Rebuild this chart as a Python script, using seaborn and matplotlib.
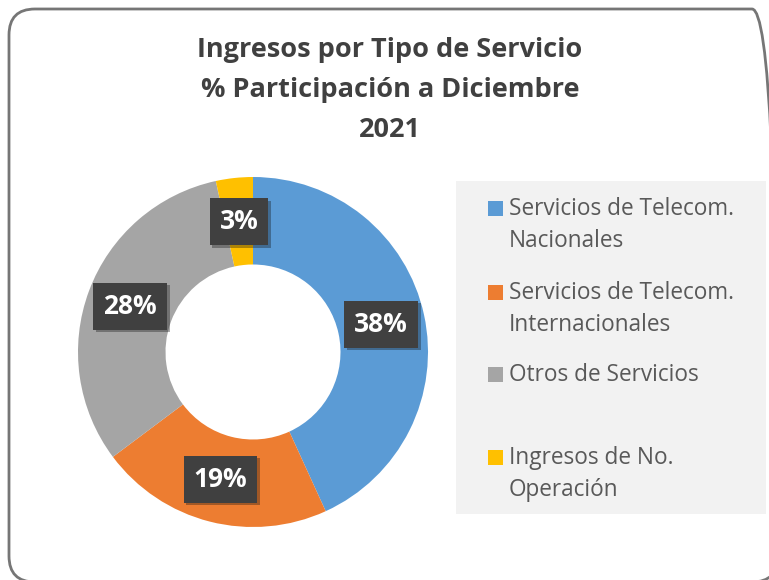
import matplotlib
matplotlib.use("Agg")
import matplotlib.pyplot as plt
import matplotlib.patheffects as pe
from matplotlib.patches import FancyBboxPatch, Rectangle
import seaborn as sns

# datos
categorias = ["Servicios de Telecom.\nNacionales",
              "Servicios de Telecom.\nInternacionales",
              "Otros de Servicios",
              "Ingresos de No.\nOperación"]
valores = [38, 19, 28, 3]
colores = ["#5B9BD5", "#ED7D31", "#A5A5A5", "#FFC000"]
titulo = "Ingresos por Tipo de Servicio\n% Participación a Diciembre\n2021"

sns.set_theme(style="white")
plt.rcParams['font.family'] = ['Open Sans', 'DejaVu Sans']

fig = plt.figure(figsize=(7.69, 5.8), dpi=100)
W, H = 769, 580

# marco redondeado (coordenadas en pixeles)
marco = FancyBboxPatch((9, H - 582), 778 - 9, 582 - 9,
                       boxstyle="round,pad=0,rounding_size=26",
                       transform=None, fill=False,
                       edgecolor="#767676", linewidth=2)
fig.patches.append(marco)

# titulo
fig.text(390 / W, 1 - 90 / H, titulo, ha="center", va="center",
         fontsize=19.5, fontweight="bold", color="#404040", linespacing=1.7)

# dona
ax = fig.add_axes([78 / W, 1 - 527 / H, 350 / W, 350 / H])
total = sum(valores)
wedges, textos, autotextos = ax.pie(
    valores, colors=colores, startangle=90, counterclock=False,
    wedgeprops=dict(width=0.5, edgecolor="none"),
    autopct=lambda p: f"{p * total / 100:.0f}%", pctdistance=0.75)
for t in autotextos:
    t.set_color("white")
    t.set_fontsize(19)
    t.set_fontweight("bold")
    t.set_bbox(dict(boxstyle="square,pad=0.38", facecolor="#404040", edgecolor="none"))
    t.get_bbox_patch().set_path_effects(
        [pe.withSimplePatchShadow(offset=(2, -2), alpha=0.35)])
ax.set_xlim(-1, 1)
ax.set_ylim(-1, 1)
ax.set_aspect("equal")
ax.axis("off")

# leyenda
fondo = Rectangle((456 / W, 1 - 514 / H), 310 / W, 333 / H,
                  transform=fig.transFigure, facecolor="#F2F2F2", edgecolor="none")
fig.patches.append(fondo)
y_centros = [208, 292, 374, 457]
for cat, col, c in zip(categorias, colores, y_centros):
    fig.patches.append(Rectangle((488 / W, 1 - (c + 8) / H), 15 / W, 15 / H,
                                 transform=fig.transFigure, facecolor=col,
                                 edgecolor="none"))
    fig.text(509 / W, 1 - (c - 11) / H, cat, ha="left", va="top",
             fontsize=16.3, color="#595959", linespacing=1.45)

fig.savefig("out.png", dpi=100)
